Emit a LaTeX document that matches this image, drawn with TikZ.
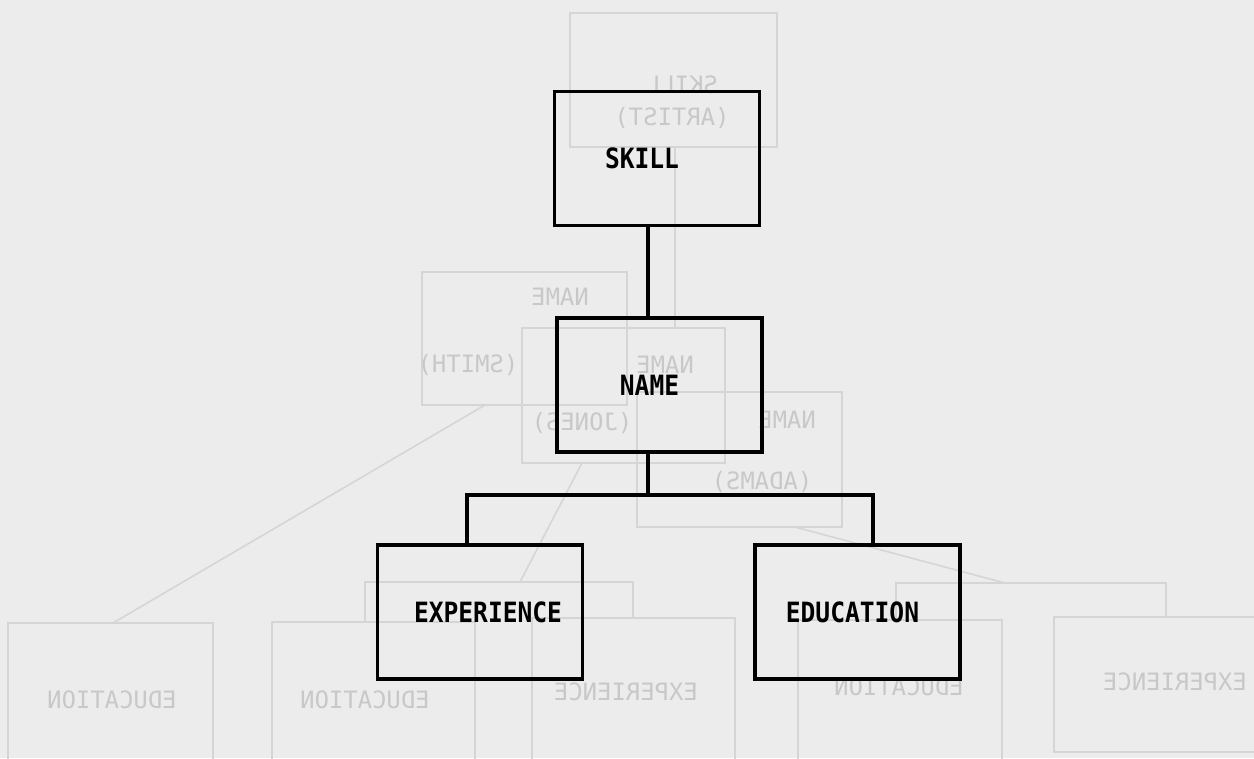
\documentclass[tikz,border=0pt]{standalone}
\usepackage{fontspec}
\usepackage{graphicx}
\usepackage{xcolor}
\usepackage{tikz}
\usetikzlibrary{positioning}
\newfontfamily\boxfont[FakeStretch=0.88]{DejaVu Sans Mono}
\newfontfamily\ghostfont{DejaVu Sans Mono}
\definecolor{paper}{RGB}{236,236,236}
\definecolor{ghostline}{RGB}{213,213,213}
\definecolor{ghostink}{RGB}{200,200,200}
\tikzstyle{block} = [rectangle, draw, line width=2.2pt, inner sep=0pt,
    minimum width=4.1cm, minimum height=2.68cm,
    font=\boxfont\bfseries\fontsize{15.9}{19}\selectfont]
\tikzstyle{edge} = [draw, line width=2pt, -]
\tikzstyle{ghost} = [draw=ghostline, line width=0.9pt]
\tikzstyle{ghosttext} = [text=ghostink, inner sep=0pt,
    font=\ghostfont\fontsize{13.6}{16}\selectfont]

\begin{document}
\begin{tikzpicture}[x=0.02cm, y=-0.02cm, node distance = 4.53cm]
  \useasboundingbox (0,0) rectangle (1254,758);
  \fill[paper] (0,0) rectangle (1254,758);
  \clip (0,0) rectangle (1254,758);
  % Show-through from the back of the sheet
  \draw[ghost] (570,13) rectangle (777,147);
  \draw[ghost] (422,272) rectangle (627,405);
  \draw[ghost] (522,328) rectangle (725,463);
  \draw[ghost] (637,392) rectangle (842,527);
  \draw[ghost] (8,623) rectangle (213,775);
  \draw[ghost] (272,622) rectangle (475,775);
  \draw[ghost] (532,618) rectangle (735,775);
  \draw[ghost] (798,620) rectangle (1002,775);
  \draw[ghost] (1054,617) rectangle (1275,752);
  \draw[ghost] (675,147) -- (675,328);
  \draw[ghost] (485,405) -- (113,623);
  \draw[ghost] (582,463) -- (520,582);
  \draw[ghost] (795,527) -- (1005,583);
  \draw[ghost] (365,622) |- (633,582) -- (633,618);
  \draw[ghost] (896,620) |- (1166,583) -- (1166,617);
  \node[ghosttext] (gskill) at (682,85) {\reflectbox{SKILL}};
  \node[ghosttext] (gartist) at (672,118) {\reflectbox{(ARTIST)}};
  \node[ghosttext] (gname1) at (560,297) {\reflectbox{NAME}};
  \node[ghosttext] (gsmith) at (468,365) {\reflectbox{(SMITH)}};
  \node[ghosttext] (gname2) at (665,365) {\reflectbox{NAME}};
  \node[ghosttext] (gjones) at (582,423) {\reflectbox{(JONES)}};
  \node[ghosttext] (gname3) at (787,420) {\reflectbox{NAME}};
  \node[ghosttext] (gadams) at (762,482) {\reflectbox{(ADAMS)}};
  \node[ghosttext] (gedu1) at (112,700) {\reflectbox{EDUCATION}};
  \node[ghosttext] (gedu2) at (365,700) {\reflectbox{EDUCATION}};
  \node[ghosttext] (gexp1) at (626,692) {\reflectbox{EXPERIENCE}};
  \node[ghosttext] (gedu3) at (899,687) {\reflectbox{EDUCATION}};
  \node[ghosttext] (gexp2) at (1175,682) {\reflectbox{EXPERIENCE}};
  % Place nodes
  \node [block] (skill) at (657,158.5) {\hspace*{-0.6cm}SKILL};
  \node [block, below of=skill, xshift=0.05cm] (name) {\hspace*{-0.4cm}NAME};
  \node [block, below of=name, xshift=-3.59cm, node distance=4.54cm] (experience) {\hspace*{0.32cm}EXPERIENCE};
  \node [block, right of=experience, node distance=7.55cm] (education) {\hspace*{-0.2cm}EDUCATION};
  \coordinate (trunk) at (648,495);
  % Draw edges
  \path[edge] (skill.south -| trunk) -- (name.north -| trunk);
  \path[edge] (name.south -| trunk) -- (trunk);
  \path[edge] ([xshift=-0.26cm]experience.north) |- (trunk) -| ([xshift=0.31cm]education.north);
\end{tikzpicture}
\end{document}
